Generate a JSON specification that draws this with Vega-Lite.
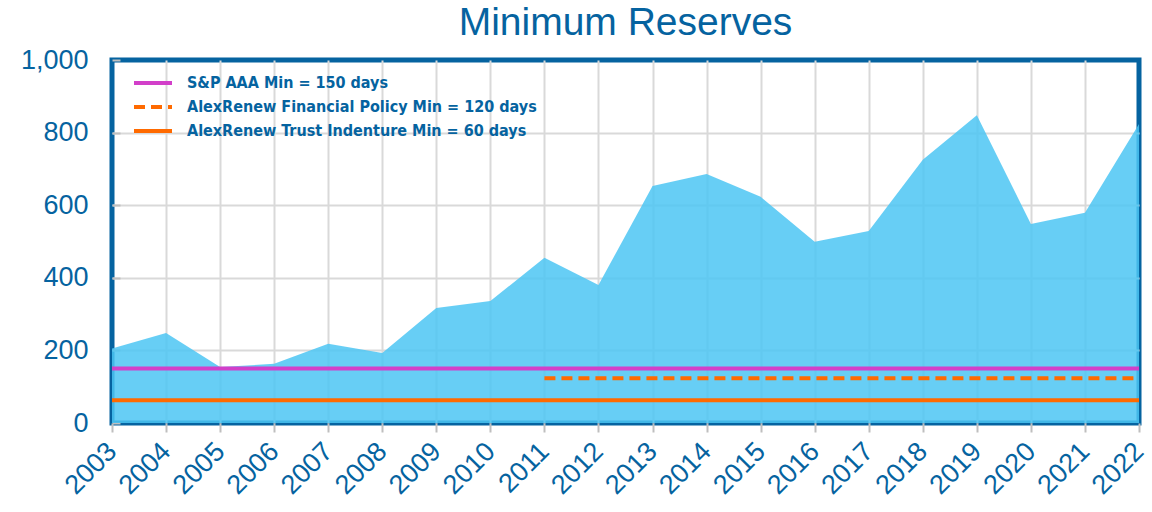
{
  "$schema": "https://vega.github.io/schema/vega-lite/v6.json",
  "width": 1027,
  "height": 363,
  "autosize": {"type": "none"},
  "padding": {"left": 112, "top": 60, "right": 13, "bottom": 89},
  "background": "white",
  "title": {"text": "Minimum Reserves", "fontSize": 39, "font": "Liberation Sans", "fontWeight": "normal", "color": "#0563a0", "anchor": "middle", "offset": 3},
  "config": {
    "view": {"stroke": "#0563a0", "strokeWidth": 5},
    "axis": {"domain": false, "gridColor": "#d9d9d9", "gridWidth": 2, "tickColor": "#bfbfbf", "tickWidth": 2, "labelColor": "#0563a0", "labelFont": "Liberation Sans", "labelFontSize": 27, "title": null}
  },
  "datasets": {
    "reserves": [
      {"year": "2003", "days": 205},
      {"year": "2004", "days": 248},
      {"year": "2005", "days": 154},
      {"year": "2006", "days": 163},
      {"year": "2007", "days": 218},
      {"year": "2008", "days": 193},
      {"year": "2009", "days": 317},
      {"year": "2010", "days": 336},
      {"year": "2011", "days": 455},
      {"year": "2012", "days": 380},
      {"year": "2013", "days": 653},
      {"year": "2014", "days": 686},
      {"year": "2015", "days": 623},
      {"year": "2016", "days": 499},
      {"year": "2017", "days": 529},
      {"year": "2018", "days": 725},
      {"year": "2019", "days": 848},
      {"year": "2020", "days": 548},
      {"year": "2021", "days": 579},
      {"year": "2022", "days": 824}
    ],
    "minimums": [
      {"series": "S&P AAA Min = 150 days", "year": "2003", "days": 150},
      {"series": "S&P AAA Min = 150 days", "year": "2022", "days": 150},
      {"series": "AlexRenew Financial Policy Min = 120 days", "year": "2011", "days": 123},
      {"series": "AlexRenew Financial Policy Min = 120 days", "year": "2022", "days": 123},
      {"series": "AlexRenew Trust Indenture Min = 60 days", "year": "2003", "days": 63},
      {"series": "AlexRenew Trust Indenture Min = 60 days", "year": "2022", "days": 63}
    ]
  },
  "layer": [
    {
      "data": {"name": "reserves"},
      "mark": {"type": "area", "color": "#4cc6f3", "opacity": 0.85},
      "encoding": {
        "x": {"field": "year", "type": "ordinal", "scale": {"type": "point", "padding": 0},
              "axis": {"grid": true,
                       "gridOpacity": {"condition": {"test": "datum.value !== '2003' && datum.value !== '2022'", "value": 1}, "value": 0},
                       "labelAngle": -45, "labelAlign": "right", "labelBaseline": "middle", "tickSize": 9, "labelPadding": 15}},
        "y": {"field": "days", "type": "quantitative", "scale": {"domain": [0, 1000], "nice": false},
              "axis": {"values": [0, 100, 200, 300, 400, 500, 600, 700, 800, 900, 1000],
                       "labelExpr": "datum.value % 200 === 0 ? format(datum.value, ',d') : ''",
                       "grid": true,
                       "gridOpacity": {"condition": {"test": "datum.value % 200 === 0 && datum.value > 0 && datum.value < 1000", "value": 1}, "value": 0},
                       "ticks": true, "tickSize": -8, "labelPadding": 32}}
      }
    },
    {
      "data": {"name": "minimums"},
      "mark": {"type": "line", "strokeWidth": 4},
      "encoding": {
        "x": {"field": "year", "type": "ordinal"},
        "y": {"field": "days", "type": "quantitative"},
        "color": {"field": "series", "type": "nominal",
          "scale": {"domain": ["S&P AAA Min = 150 days", "AlexRenew Financial Policy Min = 120 days", "AlexRenew Trust Indenture Min = 60 days"], "range": ["#d23fc9", "#ff6a00", "#ff6a00"]},
          "legend": {"title": null, "orient": "none", "legendX": 20, "legendY": 13, "symbolType": "stroke", "symbolSize": 1444, "symbolStrokeWidth": 4, "clipHeight": 20, "labelFont": "DejaVu Sans Condensed, Liberation Sans, sans-serif", "labelFontWeight": "bold", "labelFontSize": 16, "labelColor": "#0563a0", "rowPadding": 4, "labelOffset": 13, "labelLimit": 500,
            "encode": {"symbols": {"update": {"stroke": {"signal": "datum.value === 'S&P AAA Min = 150 days' ? '#d23fc9' : '#ff5a3c'"}}}}}},
        "strokeDash": {"field": "series", "type": "nominal",
          "scale": {"domain": ["S&P AAA Min = 150 days", "AlexRenew Financial Policy Min = 120 days", "AlexRenew Trust Indenture Min = 60 days"], "range": [[1, 0], [11, 6], [1, 0]]},
          "legend": {"title": null, "orient": "none", "legendX": 20, "legendY": 13, "symbolType": "stroke", "symbolSize": 1444, "symbolStrokeWidth": 4, "clipHeight": 20, "labelFont": "DejaVu Sans Condensed, Liberation Sans, sans-serif", "labelFontWeight": "bold", "labelFontSize": 16, "labelColor": "#0563a0", "rowPadding": 4, "labelOffset": 13, "labelLimit": 500,
            "encode": {"symbols": {"update": {"stroke": {"signal": "datum.value === 'S&P AAA Min = 150 days' ? '#d23fc9' : '#ff5a3c'"}}}}}}
      }
    }
  ]
}
